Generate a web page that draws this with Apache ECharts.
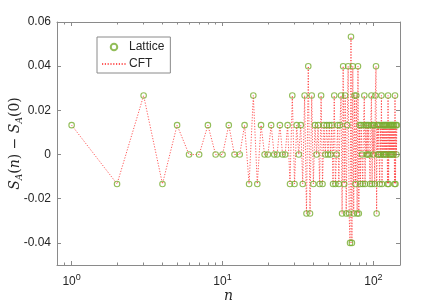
<!DOCTYPE html>
<html>
<head>
<meta charset="utf-8">
<script src="https://cdn.jsdelivr.net/npm/echarts@6/dist/echarts.min.js"></script>
<style>
html,body{margin:0;padding:0;background:#fff;}
#chart{width:443px;height:305px;}
</style>
</head>
<body>
<div id="chart"></div>
<script>
// n values (system size)
const nValues = [
  1,2,3,4,5,6,7,8,9,10,11,12,13,14,15,16,17,18,19,20,
  21,22,23,24,25,26,27,28,29,30,31,32,33,34,35,36,37,38,39,40,
  41,42,43,44,45,46,47,48,49,50,51,52,53,54,55,56,57,58,59,60,
  61,62,63,64,65,66,67,68,69,70,71,72,73,74,75,76,77,78,79,80,
  81,82,83,84,85,86,87,88,89,90,91,92,93,94,95,96,97,98,99,100,
  101,102,103,104,105,106,107,108,109,110,111,112,113,114,115,116,117,118,119,120,
  121,122,123,124,125,126,127,128,129,130,131,132,133,134,135,136,137,138,139,140,
  141,142,143
];
// Lattice: S_A(n) - S_A(0)
const latticeValues = [
  0.0133,-0.0133,0.0267,-0.0133,0.0133,0,0,0.0133,0,0,0.0133,0,0,0.0133,-0.0133,0.0267,-0.0133,0.0133,0,0,
  0.0133,0,0,0.0133,0,0,0.0133,-0.0133,0.0267,-0.0133,0.0133,0,0.0133,-0.0133,0.0267,-0.0267,0.04,-0.0267,0.0267,-0.0133,
  0.0133,0,0.0133,-0.0133,0.0267,-0.0133,0.0133,0,0.0133,0,0.0133,0,0.0133,-0.0133,0.0267,-0.0133,0,0.0133,-0.0133,0.0133,
  0.0267,-0.0267,0.04,-0.0133,0.0267,-0.0267,0.0133,0.04,-0.0267,-0.04,0.0533,-0.04,0.04,-0.0267,0.0267,-0.0133,0.0267,-0.0267,0.04,-0.0267,
  0.0133,-0.0133,0.0133,0,-0.0133,0.0133,0.0267,-0.0133,0.0133,0,0.0133,0,0.0133,0,-0.0133,0.0133,0.0267,-0.0133,0.0133,0,
  0.0133,-0.0133,0.0267,0.04,-0.0267,0.0133,0,0.0133,0,-0.0133,0.0133,0,0.0267,-0.0133,0.0133,0,0.0133,0,0.0133,0,
  0.0133,0,0.0133,-0.0133,0.0267,-0.0133,0.0133,0,0.0133,0,0.0133,0,0.0133,0,0.0133,0,0.0133,-0.0133,0.0267,-0.0133,
  0.0133,0,0.0133
];
// CFT prediction (coincides with lattice values)
const cftValues = latticeValues.slice();

const yTicks = [-0.04, -0.02, 0, 0.02, 0.04, 0.06];
const yTickLabels = ['-0.04', '-0.02', '0', '0.02', '0.04', '0.06'];
const legendNames = ['Lattice', 'CFT'];

const latticeData = nValues.map((n, i) => [n, latticeValues[i]]);
const cftData = nValues.map((n, i) => [n, cftValues[i]]);

const axisGray = '#8a8a8a';
const textColor = '#262626';
const lineRed = 'rgba(255,50,50,0.8)';

function logLabel(v) {
  const k = Math.round(Math.log10(v));
  if (Math.abs(Math.pow(10, k) - v) < 1e-6 * v) {
    return '{b|10}{e|' + k + '}';
  }
  return '';
}

const xCommon = {
  type: 'log',
  logBase: 10,
  min: 0.8,
  max: 150,
  axisLine: { show: true, onZero: false, lineStyle: { color: axisGray, width: 1 } },
  axisTick: { show: true, inside: true, length: 4, lineStyle: { color: axisGray } },
  minorTick: { show: true, splitNumber: 9, length: 2.5, lineStyle: { color: axisGray } },
  splitLine: { show: false },
  minorSplitLine: { show: false }
};

const yCommon = {
  type: 'value',
  min: -0.05,
  max: 0.06,
  axisLine: { show: true, onZero: false, lineStyle: { color: axisGray, width: 1 } },
  axisTick: { show: true, inside: true, length: 4, customValues: yTicks, lineStyle: { color: axisGray } },
  splitLine: { show: false }
};

const chart = echarts.init(document.getElementById('chart'), null, { renderer: 'canvas' });
chart.setOption({
  animation: false,
  backgroundColor: '#ffffff',
  grid: { left: 57, right: 43, top: 22, bottom: 40, containLabel: false, outerBoundsMode: 'none' },
  legend: {
    left: 97,
    top: 37,
    orient: 'vertical',
    data: [
      { name: legendNames[0] },
      { name: legendNames[1], itemStyle: { color: 'rgba(0,0,0,0)', borderWidth: 0, opacity: 0 } }
    ],
    itemWidth: 24,
    itemHeight: 6.5,
    itemGap: 5,
    padding: [4, 6, 3, 4],
    borderColor: axisGray,
    borderWidth: 1,
    borderRadius: 0,
    backgroundColor: '#ffffff',
    textStyle: { fontFamily: 'Liberation Sans, Arial, sans-serif', fontSize: 12, color: textColor, padding: [0, 0, 0, -2] }
  },
  xAxis: [
    Object.assign({}, xCommon, {
      position: 'bottom',
      name: 'n',
      nameLocation: 'middle',
      nameGap: 24,
      nameMoveOverlap: false,
      nameTextStyle: { fontFamily: 'DejaVu Serif, Liberation Serif, serif', fontStyle: 'italic', fontSize: 14, color: textColor },
      axisLabel: {
        show: true,
        margin: 8,
        formatter: logLabel,
        rich: {
          b: { fontFamily: 'Liberation Sans, Arial, sans-serif', fontSize: 12, color: textColor },
          e: { fontFamily: 'Liberation Sans, Arial, sans-serif', fontSize: 9, color: textColor, padding: [0, 0, 9, 0] }
        }
      }
    }),
    Object.assign({}, xCommon, {
      position: 'top',
      axisLabel: { show: false }
    })
  ],
  yAxis: [
    Object.assign({}, yCommon, {
      position: 'left',
      name: '{i|S}{s|A}{r|(}{i|n}{r|) \u2212 }{i|S}{s|A}{r|(0)}',
      nameLocation: 'middle',
      nameRotate: 90,
      nameGap: 33,
      nameMoveOverlap: false,
      nameTextStyle: {
        rich: {
          i: { fontFamily: 'DejaVu Serif, Liberation Serif, serif', fontStyle: 'italic', fontSize: 14, color: textColor },
          r: { fontFamily: 'DejaVu Serif, Liberation Serif, serif', fontSize: 14, color: textColor },
          s: { fontFamily: 'DejaVu Serif, Liberation Serif, serif', fontStyle: 'italic', fontSize: 9, color: textColor, padding: [8, 0, 0, 0] }
        }
      },
      axisLabel: {
        show: true,
        customValues: yTicks,
        margin: 6,
        fontFamily: 'Liberation Sans, Arial, sans-serif',
        fontSize: 12,
        color: textColor,
        formatter: function (v) {
          const idx = yTicks.findIndex(t => Math.abs(t - v) < 1e-9);
          return idx >= 0 ? yTickLabels[idx] : '';
        }
      }
    }),
    Object.assign({}, yCommon, {
      position: 'right',
      axisLabel: { show: false }
    })
  ],
  series: [
    {
      name: 'Lattice',
      type: 'scatter',
      xAxisIndex: 0,
      yAxisIndex: 0,
      data: latticeData,
      symbol: 'circle',
      symbolSize: 5.5,
      itemStyle: { color: 'rgba(0,0,0,0)', borderColor: '#77AC30', borderWidth: 1.1 },
      z: 3
    },
    {
      name: 'CFT',
      type: 'line',
      xAxisIndex: 0,
      yAxisIndex: 0,
      data: cftData,
      symbol: 'none',
      showSymbol: false,
      lineStyle: { color: lineRed, width: 1, type: [1.2, 1.6] },
      itemStyle: { color: lineRed },
      z: 2
    }
  ]
});
</script>
</body>
</html>
